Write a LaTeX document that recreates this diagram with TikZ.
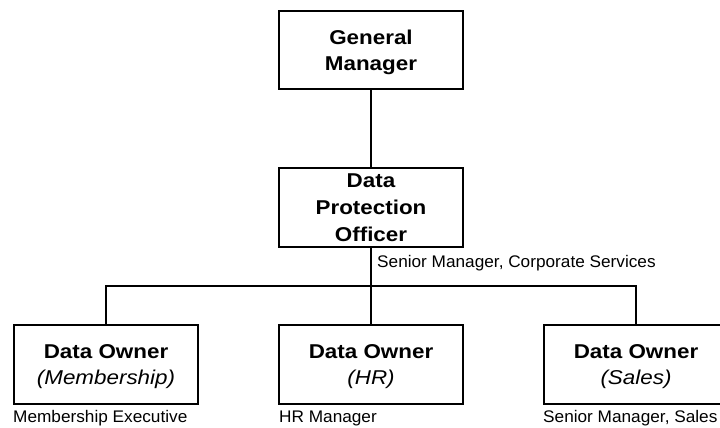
\documentclass[tikz,border=0pt]{standalone}
\usepackage{fontspec}
\setmainfont{Liberation Sans}
\newfontfamily\boxfont[FakeStretch=1.12]{Liberation Sans}
\newfontfamily\notefont[FakeStretch=1.025]{Liberation Sans}
\begin{document}
\begin{tikzpicture}[x=1pt,y=-1pt,
  role/.style={draw, line width=1.8pt, minimum width=184pt, minimum height=79pt,
    inner sep=0pt, align=center, font=\boxfont\fontsize{20}{26}\selectfont\bfseries},
  link/.style={line width=1.8pt},
  note/.style={anchor=base west, inner sep=0pt, font=\notefont\fontsize{16.8}{20}\selectfont}]
\useasboundingbox (0,0) rectangle (720,428);
% boxes
\node[role, minimum height=78pt] (gm) at (371,50) {General\\\smash{Manager}};
\node[role, font=\boxfont\fontsize{20}{27}\selectfont\bfseries] (dpo) at (371,207.5) {Data\\Protection\\Officer};
\node[role] (own-mem) at (106,364.5) {Data Owner\\\smash{\mdseries\itshape (Membership)}};
\node[role] (own-hr) at (371,364.5) {Data Owner\\\smash{\mdseries\itshape (HR)}};
\node[role] (own-sales) at (636,364.5) {Data Owner\\\smash{\mdseries\itshape (Sales)}};
% connectors
\draw[link] (gm.south) -- (dpo.north);
\draw[link] (dpo.south) -- (own-hr.north);
\draw[link] (own-mem.north) -- ++(0,-38) -| (own-sales.north);
% role holders
\node[note] (dpo-note) at (377,267) {Senior Manager, Corporate Services};
\node[note] (mem-note) at (13,422) {Membership Executive};
\node[note] (hr-note) at (279,422) {HR Manager};
\node[note] (sales-note) at (543,422) {Senior Manager, Sales};
\end{tikzpicture}
\end{document}
